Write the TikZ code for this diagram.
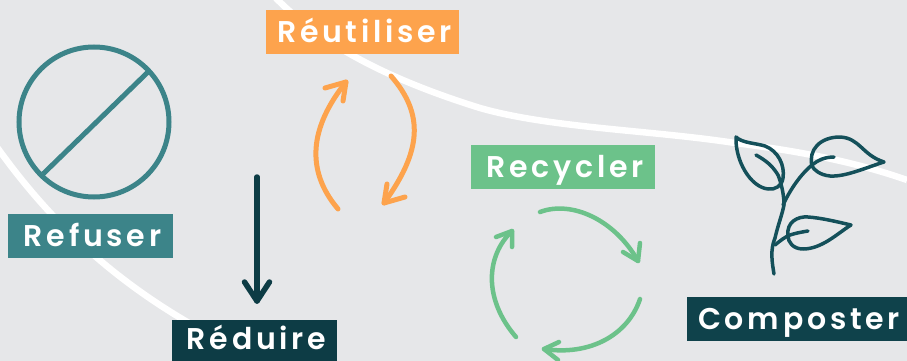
\documentclass[tikz,border=0pt]{standalone}
\usepackage{fontspec}
\newfontfamily\labelfont[LetterSpace=12.5,BoldFont={Poppins SemiBold}]{Poppins}
\definecolor{bgc}{HTML}{E6E7E9}
\definecolor{tealc}{HTML}{3C8489}
\definecolor{darkc}{HTML}{0D3C45}
\definecolor{plantc}{HTML}{14505A}
\definecolor{orangec}{HTML}{FDA34D}
\definecolor{greenc}{HTML}{6CC28A}
\tikzset{
  lab/.style={rectangle,inner sep=0pt,minimum height=44pt,text=white,text height=21pt,text depth=0pt,font=\labelfont\fontsize{30}{30}\selectfont\bfseries,execute at begin node=\hspace*{4pt}},
  wave/.style={white,line width=6.5pt},
  stroke/.style={line width=#1,line cap=round,line join=round},
}
\begin{document}
\begin{tikzpicture}[x=1pt,y=-1pt]
\useasboundingbox (0,0) rectangle (907,361);
\clip (0,0) rectangle (907,361);
\fill[bgc] (0,0) rectangle (907,361);
% white waves
\draw[wave] (-6,143) .. controls (45,215) and (115,290) .. (240,350);
\draw[wave] (272,-6) .. controls (320,45) and (390,80) .. (480,108) .. controls (550,128) and (650,130) .. (735,143) .. controls (790,150) and (850,160) .. (907,180);
% labels
\node[lab,fill=orangec,minimum width=193pt] (reu) at (362.5,32) {Réutiliser};
\node[lab,fill=tealc,minimum width=165pt] (ref) at (90.5,236) {Refuser};
\node[lab,fill=darkc,minimum width=165pt,minimum height=41pt,text depth=3pt] (red) at (254.5,340.5) {Réduire};
\node[lab,fill=greenc,minimum width=184pt] (rec) at (563,167) {Recycler};
\node[lab,fill=darkc!70!plantc,minimum width=220pt] (com) at (797,319) {Composter};
% refuse sign
\draw[tealc,line width=5pt] (94,122) circle[radius=75];
\draw[tealc,line width=5pt] (43,174) -- (148,72);
% reduce arrow
\coordinate (a1) at (257,177); \coordinate (a2) at (257,301);
\draw[darkc,stroke=5.5pt] (a1) -- (a2);
\draw[darkc,stroke=5.5pt] (244.5,282) -- (a2) -- (269.5,282);
% orange arrows
\draw[orangec,stroke=5pt] (338,209) .. controls (305,170) and (310,127) .. (346,82);
\draw[orangec,stroke=5pt] (325,88) -- (346,82) -- (343,101);
\draw[orangec,stroke=5pt] (391,76) .. controls (425,115) and (421,152) .. (384,203);
\draw[orangec,stroke=5pt] (387,184) -- (384,203) -- (405,197);
% green arrows
\draw[greenc,stroke=4.5pt] (540,212) .. controls (572,200) and (615,220) .. (638,261);
\draw[greenc,stroke=4.5pt] (640,243) -- (638,261) -- (623,252);
\draw[greenc,stroke=4.5pt] (640,299) .. controls (628,335) and (590,356) .. (544,349);
\draw[greenc,stroke=4.5pt] (559,342) -- (544,349) -- (558,360);
\draw[greenc,stroke=4.5pt] (516,337) .. controls (484,300) and (485,257) .. (512,231);
\draw[greenc,stroke=4.5pt] (496,237) -- (512,231) -- (512,247);
% plant
\begin{scope}[plantc,stroke=3.5pt]
\draw (774,274) .. controls (772,262) and (770,250) .. (775,238) .. controls (778,225) and (782,215) .. (784,205) .. controls (784,192) and (780,180) .. (778,175) .. controls (772,165) and (765,160) .. (756,155);
\draw (783,205) .. controls (790,190) and (800,175) .. (812,165) .. controls (818,160) and (825,157) .. (834,157);
\draw (775,245) .. controls (781,240) and (785,237) .. (790,235) .. controls (796,233) and (802,232) .. (808,231);
\draw (736,137) .. controls (742,143) and (755,143) .. (765,146) .. controls (778,151) and (785,165) .. (783,178) .. controls (782,186) and (775,190) .. (768,189) .. controls (750,187) and (735,160) .. (736,137) -- cycle;
\draw (812,166) .. controls (808,150) and (820,137) .. (840,137) .. controls (860,138) and (862,155) .. (884,162) .. controls (865,168) and (845,177) .. (830,176) .. controls (820,175) and (814,170) .. (812,166) -- cycle;
\draw (788,236) .. controls (786,222) and (798,216) .. (808,217) .. controls (822,218) and (838,222) .. (851,225) .. controls (838,233) and (822,249) .. (803,249) .. controls (793,249) and (788,242) .. (788,236) -- cycle;
\end{scope}
\end{tikzpicture}
\end{document}
